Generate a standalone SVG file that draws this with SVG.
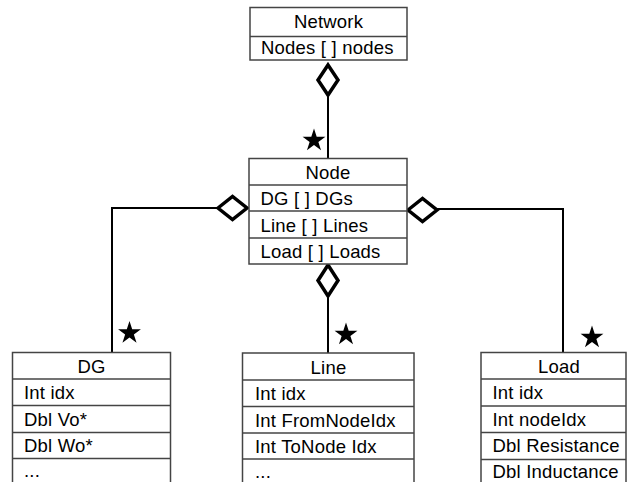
<svg xmlns="http://www.w3.org/2000/svg" width="627" height="482" viewBox="0 0 627 482">
<style>
.box{fill:#fff;stroke:#444;stroke-width:1.5}
.div{stroke:#444;stroke-width:1.5}
.t{font-family:"Liberation Sans",Arial,sans-serif;font-size:18.5px;letter-spacing:0.2px;fill:#000}
.c{text-anchor:middle}
.conn{fill:none;stroke:#000;stroke-width:2}
.dia{fill:#fff;stroke:#000;stroke-width:3.5;stroke-linejoin:miter}
</style>
<defs>
<path id="star" d="M0,-12 L2.70,-3.72 L11.41,-3.71 L4.37,1.42 L7.05,9.71 L0,4.6 L-7.05,9.71 L-4.37,1.42 L-11.41,-3.71 L-2.70,-3.72 Z" fill="#000"/>
</defs>
<rect width="627" height="482" fill="#fff"/>
<g id="connectors">
<line class="conn" x1="328" y1="95" x2="328" y2="158"/>
<path class="conn" d="M218,208 H112 V352"/>
<path class="conn" d="M437,209 H563 V353"/>
<line class="conn" x1="328" y1="296" x2="328" y2="353"/>
<polygon class="dia" points="328,65 338,80 328,95 318,80"/>
<polygon class="dia" points="328,265 338,280.5 328,296 318,280.5"/>
<polygon class="dia" points="218,208 232.5,196.5 247,208 232.5,219.5"/>
<polygon class="dia" points="408,210 422.5,198.5 437,210 422.5,221.5"/>
<use href="#star" x="314" y="140.5"/>
<use href="#star" x="129.5" y="333"/>
<use href="#star" x="346" y="334.5"/>
<use href="#star" x="592" y="337.5"/>
</g>
<g id="network">
<rect class="box" x="250" y="7.5" width="157" height="52.5"/>
<line class="div" x1="250" y1="36.5" x2="407" y2="36.5"/>
<text class="t c" x="328.5" y="28">Network</text>
<text class="t" x="261" y="53.5">Nodes [ ] nodes</text>
</g>
<g id="node">
<rect class="box" x="249" y="158.5" width="158" height="105.5"/>
<line class="div" x1="249" y1="185" x2="407" y2="185"/>
<line class="div" x1="249" y1="211" x2="407" y2="211"/>
<line class="div" x1="249" y1="238" x2="407" y2="238"/>
<text class="t c" x="328" y="178.5">Node</text>
<text class="t" x="260.5" y="205">DG [ ] DGs</text>
<text class="t" x="260.5" y="231.5">Line [ ] Lines</text>
<text class="t" x="260.5" y="258">Load [ ] Loads</text>
</g>
<g id="dg">
<rect class="box" x="12.5" y="352.5" width="158" height="140"/>
<line class="div" x1="12.5" y1="379" x2="170.5" y2="379"/>
<line class="div" x1="12.5" y1="405.5" x2="170.5" y2="405.5"/>
<line class="div" x1="12.5" y1="432.5" x2="170.5" y2="432.5"/>
<line class="div" x1="12.5" y1="458.5" x2="170.5" y2="458.5"/>
<text class="t c" x="91.5" y="372.5">DG</text>
<text class="t" x="24" y="399">Int idx</text>
<text class="t" x="24" y="425.5">Dbl Vo*</text>
<text class="t" x="24" y="452">Dbl Wo*</text>
<text class="t" x="24" y="477">...</text>
</g>
<g id="line">
<rect class="box" x="242.5" y="353" width="171.5" height="140"/>
<line class="div" x1="242.5" y1="380" x2="414" y2="380"/>
<line class="div" x1="242.5" y1="406.5" x2="414" y2="406.5"/>
<line class="div" x1="242.5" y1="433" x2="414" y2="433"/>
<line class="div" x1="242.5" y1="459" x2="414" y2="459"/>
<text class="t c" x="328.5" y="373.5">Line</text>
<text class="t" x="255" y="399.5">Int idx</text>
<text class="t" x="255" y="426.5">Int FromNodeIdx</text>
<text class="t" x="255" y="452.5">Int ToNode Idx</text>
<text class="t" x="255" y="477.5">...</text>
</g>
<g id="load">
<rect class="box" x="481" y="352.5" width="145" height="140"/>
<line class="div" x1="481" y1="379" x2="626" y2="379"/>
<line class="div" x1="481" y1="406" x2="626" y2="406"/>
<line class="div" x1="481" y1="432.5" x2="626" y2="432.5"/>
<line class="div" x1="481" y1="459.5" x2="626" y2="459.5"/>
<text class="t c" x="559" y="372.5">Load</text>
<text class="t" x="492.5" y="399">Int idx</text>
<text class="t" x="492.5" y="425.5">Int nodeIdx</text>
<text class="t" x="492.5" y="452">Dbl Resistance</text>
<text class="t" x="492.5" y="478">Dbl Inductance</text>
</g>
</svg>
